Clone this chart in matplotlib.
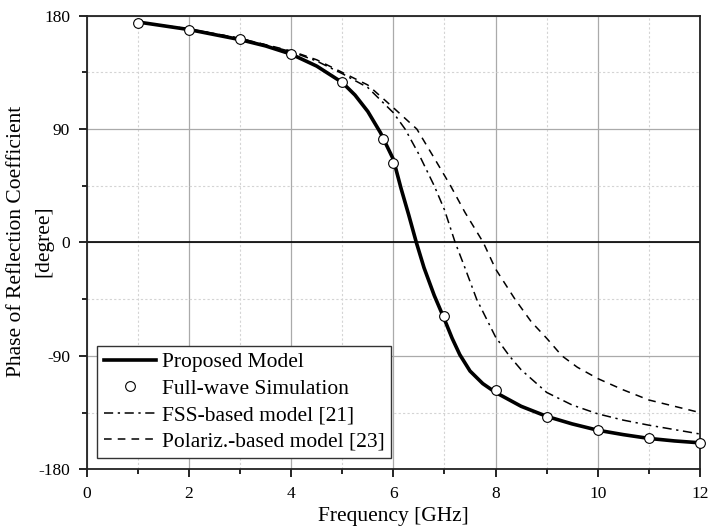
import matplotlib
matplotlib.use("Agg")
import matplotlib.pyplot as plt
from matplotlib.ticker import MultipleLocator

plt.rcParams['font.family'] = ['Liberation Serif', 'DejaVu Serif']
plt.rcParams['axes.unicode_minus'] = False

# Full-wave simulation (circles)
fw_freq = [1, 2, 3, 4, 5, 5.8, 6, 7, 8, 9, 10, 11, 12]
fw_phase = [174.5, 169, 161.5, 149.5, 127, 82.5, 63, -58.5, -117, -138.5, -149, -155, -159.5]

# Proposed model (thick solid)
prop_freq = [1, 2, 3, 3.5, 4, 4.5, 5, 5.25, 5.5, 5.75, 6, 6.15, 6.3, 6.45, 6.6, 6.8,
             7, 7.15, 7.3, 7.5, 7.75, 8, 8.5, 9, 9.5, 10, 10.5, 11, 11.5, 12]
prop_phase = [175, 169, 161, 156, 149.5, 140, 127, 117, 104, 87, 66, 43, 22, 0, -20, -42,
              -61, -76, -89, -102, -112, -119, -130, -138, -144, -149, -152.5, -155.5, -157.5, -159]

# FSS-based model [21] (dash-dot)
fss_freq = [1, 2, 3, 4, 4.5, 5, 5.5, 6, 6.23, 6.5, 6.8, 7, 7.21, 7.4, 7.63, 8, 8.27,
            8.5, 9, 9.5, 10, 10.5, 11, 11.5, 12]
fss_phase = [175, 169.5, 162, 151.5, 144, 134, 123, 103, 90, 70, 45, 26, 0, -20, -45, -75, -90,
             -101, -119, -129, -136, -141, -145, -148.5, -152]

# Polariz.-based model [23] (dashed)
pol_freq = [1, 2, 3, 4, 4.5, 5, 5.5, 6, 6.46, 6.8, 7.12, 7.4, 7.76, 8, 8.38, 8.7, 9, 9.3,
            9.6, 10, 10.5, 11, 11.5, 12]
pol_phase = [175, 169.5, 162, 152, 145, 135, 125, 107, 90, 67, 45, 24, 0, -21, -45, -63, -76, -90,
             -99, -108, -117, -125, -130, -135]

fig = plt.figure(figsize=(7.12, 5.32), dpi=100)
ax = fig.add_axes([0.1218, 0.1179, 0.8613, 0.8526])

ax.plot(pol_freq, pol_phase, color='black', lw=1.1, ls=(0, (5, 4)),
        label='Polariz.-based model [23]', zorder=3)
ax.plot(fss_freq, fss_phase, color='black', lw=1.1, ls=(0, (6, 3, 1.5, 3)),
        label='FSS-based model [21]', zorder=3)
ax.plot(prop_freq, prop_phase, color='black', lw=2.6, label='Proposed Model', zorder=4)
ax.plot(fw_freq, fw_phase, ls='none', marker='o', ms=7, mfc='white', mec='black', mew=0.8,
        label='Full-wave Simulation', zorder=5, clip_on=False)

ax.axhline(0, color='black', lw=1.2, zorder=2)

ax.set_xlim(0, 12)
ax.set_ylim(-180, 180)
ax.xaxis.set_major_locator(MultipleLocator(2))
ax.xaxis.set_minor_locator(MultipleLocator(1))
ax.yaxis.set_major_locator(MultipleLocator(90))
ax.yaxis.set_minor_locator(MultipleLocator(45))

ax.grid(which='major', color='#aaaaaa', lw=0.9, ls='-', zorder=0)
ax.grid(which='minor', color='#d4d4d4', lw=0.8, ls=(0, (2, 2)), zorder=0)
ax.set_axisbelow(True)

ax.tick_params(which='both', direction='out', top=False, right=False, labelsize=12.5,
               width=1.2, colors='black')
ax.tick_params(which='major', length=6, pad=6)
ax.tick_params(which='minor', length=3.5)
for s in ax.spines.values():
    s.set_linewidth(1.3)
    s.set_color('#222222')

ax.set_xlabel('Frequency [GHz]', fontsize=15.5, labelpad=4)
# two-line y label, each line placed on its own
ylab_y = (532 - 241.5) / 532
fig.text(16.5 / 712, ylab_y, 'Phase of Reflection Coefficient', fontsize=15.5,
         rotation=90, ha='center', va='center')
fig.text(44 / 712, ylab_y, '[degree]', fontsize=15.5,
         rotation=90, ha='center', va='center')

handles, labels = ax.get_legend_handles_labels()
order = [2, 3, 1, 0]
leg = ax.legend([handles[i] for i in order], [labels[i] for i in order],
                loc='lower left', bbox_to_anchor=(0.017, 0.024), fontsize=15.5,
                frameon=True, fancybox=False, edgecolor='#333333', framealpha=1,
                handlelength=2.45, handletextpad=0.25, labelspacing=0.3,
                borderpad=0.3, borderaxespad=0)
leg.get_frame().set_linewidth(1.0)
leg.set_zorder(10)

fig.savefig('out.png', dpi=100)
